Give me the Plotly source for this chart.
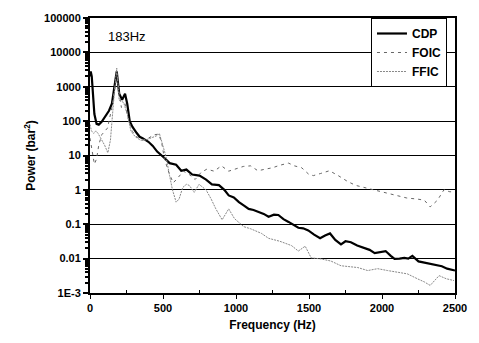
import plotly.graph_objects as go

# Power spectra (bar^2) versus frequency (Hz)
cdp_freq = [0, 5, 12, 20, 30, 45, 60, 80, 100, 115, 130, 150, 165, 183, 200, 220, 240, 255, 272,
            290, 320, 340, 360, 380, 400, 430, 460, 510, 545, 590, 625, 660, 700, 750, 795, 835,
            883, 920, 950, 985, 1020, 1055, 1087, 1120, 1155, 1190, 1223, 1260, 1290, 1325, 1360,
            1395, 1427, 1460, 1495, 1535, 1576, 1610, 1644, 1680, 1719, 1750, 1787, 1830, 1882,
            1915, 1950, 1990, 2025, 2060, 2086, 2120, 2153, 2180, 2208, 2250, 2289, 2330, 2378,
            2410, 2446, 2475, 2500]
cdp_power = [2000, 2800, 2000, 630, 160, 83, 79, 95, 126, 160, 200, 320, 1000, 2800, 630, 420,
             630, 320, 100, 69, 45, 35, 32, 29, 25, 19, 13, 8.5, 6.0, 5.4, 3.6, 3.9, 2.8, 2.6, 2.0,
             1.45, 1.38, 1.0, 0.69, 0.60, 0.44, 0.35, 0.28, 0.26, 0.23, 0.20, 0.166, 0.19, 0.186,
             0.141, 0.117, 0.095, 0.079, 0.076, 0.066, 0.050, 0.039, 0.047, 0.054, 0.035, 0.026,
             0.032, 0.030, 0.024, 0.020, 0.018, 0.0145, 0.016, 0.0166, 0.012, 0.0098, 0.010,
             0.0105, 0.010, 0.012, 0.0083, 0.0076, 0.0069, 0.0062, 0.0060, 0.0051, 0.0047, 0.0045]

foic_freq = [0, 15, 30, 45, 60, 80, 100, 120, 150, 175, 183, 195, 215, 240, 260, 290, 320, 360,
             400, 440, 470, 490, 510, 540, 570, 600, 640, 680, 720, 760, 800, 850, 900, 950, 1000,
             1050, 1100, 1150, 1200, 1250, 1300, 1360, 1400, 1450, 1500, 1530, 1580, 1640, 1700,
             1766, 1820, 1880, 1940, 1990, 2050, 2106, 2170, 2242, 2290, 2330, 2380, 2425, 2460, 2500]
foic_power = [32, 12.6, 5.6, 8, 20, 40, 50, 63, 250, 1600, 2500, 1000, 250, 320, 126, 50, 35, 28,
              32, 40, 42, 25, 8, 3.2, 1.6, 2.2, 3.5, 2.8, 2.0, 3.2, 4.0, 3.5, 5.0, 3.5, 4.0, 4.8,
              5.0, 3.6, 4.0, 4.4, 5.2, 6.0, 5.0, 4.4, 2.8, 2.6, 3.0, 3.6, 2.6, 1.74, 1.35, 1.17,
              1.02, 0.91, 0.76, 0.69, 0.58, 0.54, 0.50, 0.32, 0.50, 1.02, 0.89, 0.85]

ffic_freq = [0, 10, 25, 40, 55, 80, 100, 122, 140, 160, 183, 200, 230, 255, 280, 310, 345, 380,
             420, 460, 475, 495, 520, 545, 565, 590, 610, 635, 660, 680, 714, 747, 795, 830, 862,
             905, 950, 990, 1053, 1100, 1175, 1223, 1300, 1380, 1427, 1474, 1515, 1583, 1650, 1719,
             1780, 1834, 1902, 1970, 2038, 2100, 2174, 2242, 2290, 2330, 2391, 2440, 2493]
ffic_power = [80, 52, 44, 52, 44, 28, 20, 12, 28, 310, 3500, 400, 350, 160, 52, 35, 28, 28, 32,
              38, 44, 22, 9.5, 2.6, 1.0, 0.44, 0.54, 1.17, 1.45, 1.35, 0.85, 1.45, 1.0, 0.54, 0.28,
              0.135, 0.28, 0.145, 0.085, 0.074, 0.054, 0.039, 0.032, 0.024, 0.0166, 0.023, 0.0105,
              0.0098, 0.0085, 0.0062, 0.0058, 0.0055, 0.0045, 0.0051, 0.0045, 0.0040, 0.0036,
              0.0026, 0.0021, 0.00166, 0.0032, 0.0026, 0.0023]

y_tick_vals = [1e-3, 1e-2, 1e-1, 1, 10, 100, 1000, 10000, 100000]
y_tick_text = ["<b>1E-3</b>", "<b>0.01</b>", "<b>0.1</b>", "<b>1</b>", "<b>10</b>", "<b>100</b>",
               "<b>1000</b>", "<b>10000</b>", "<b>100000</b>"]
x_tick_vals = [0, 500, 1000, 1500, 2000, 2500]
x_tick_text = ["<b>0</b>", "<b>500</b>", "<b>1000</b>", "<b>1500</b>", "<b>2000</b>", "<b>2500</b>"]

font_family = "Liberation Sans, Arial, sans-serif"

fig = go.Figure()
fig.add_trace(go.Scatter(x=cdp_freq, y=cdp_power, name="<b>CDP</b>", mode="lines",
                         line=dict(color="black", width=2.2)))
fig.add_trace(go.Scatter(x=foic_freq, y=foic_power, name="<b>FOIC</b>", mode="lines",
                         line=dict(color="#666666", width=1, dash="3px,4px")))
fig.add_trace(go.Scatter(x=ffic_freq, y=ffic_power, name="<b>FFIC</b>", mode="lines",
                         line=dict(color="#888888", width=1, dash="2px,1px")))

fig.add_annotation(x=250, y=4.45, xref="x", yref="y", text="183Hz", showarrow=False,
                   xanchor="center", yanchor="middle",
                   font=dict(family=font_family, size=13, color="black"))

fig.update_layout(
    width=479, height=343,
    margin=dict(l=90, r=21, t=12, b=50),
    paper_bgcolor="white", plot_bgcolor="white",
    font=dict(family=font_family, size=11, color="black"),
    showlegend=True,
    legend=dict(x=0.978, y=1.0, xanchor="right", yanchor="top",
                bgcolor="white", bordercolor="black", borderwidth=1,
                font=dict(family=font_family, size=12, color="black"),
                itemwidth=30, tracegroupgap=0),
    xaxis=dict(
        range=[0, 2500], tickvals=x_tick_vals, ticktext=x_tick_text, ticks="outside", ticklen=4,
        tickcolor="black", tickwidth=1,
        showline=True, linecolor="black", linewidth=1.5, mirror=True,
        showgrid=False, zeroline=False,
        minor=dict(tickvals=[250, 750, 1250, 1750, 2250], ticks="inside", ticklen=3,
                   tickcolor="black"),
        title=dict(text="<b>Frequency (Hz)</b>", font=dict(family=font_family, size=12),
                   standoff=8),
        tickfont=dict(family=font_family, size=11),
    ),
    yaxis=dict(
        type="log", range=[-3, 5], tickvals=y_tick_vals, ticktext=y_tick_text,
        ticks="outside", ticklen=5, tickcolor="black", tickwidth=1.5,
        showline=True, linecolor="black", linewidth=2, mirror=True,
        showgrid=True, gridcolor="black", gridwidth=1, zeroline=False,
        minor=dict(ticks="outside", ticklen=3, tickcolor="black", showgrid=False,
                   tickvals=[m * 10 ** e for e in range(-3, 5) for m in range(2, 10)]),
        title=dict(text="<b>Power (bar<sup>2</sup>)</b>", font=dict(family=font_family, size=12),
                   standoff=6),
        tickfont=dict(family=font_family, size=11),
    ),
)

fig.write_html("out.html")
